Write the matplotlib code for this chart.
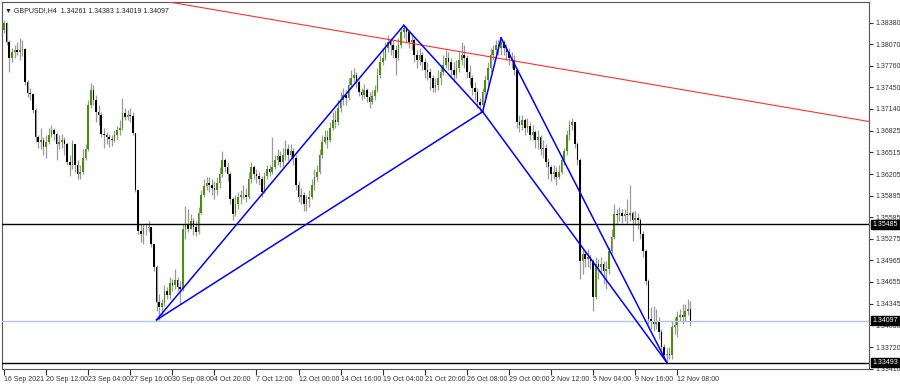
import matplotlib.pyplot as plt
import matplotlib.transforms as mtransforms
import numpy as np

# GBPUSD H4 candles (open = previous close)
first_open = 1.3827
closes = [
    1.3837, 1.3810, 1.3787, 1.3796, 1.3798, 1.3796, 1.3798, 1.3800, 1.3753, 1.3737,
    1.3736, 1.3713, 1.3673, 1.3666, 1.3670, 1.3660, 1.3667, 1.3677, 1.3683, 1.3678,
    1.3663, 1.3666, 1.3670, 1.3663, 1.3638, 1.3634, 1.3663, 1.3634, 1.3620, 1.3624,
    1.3644, 1.3656, 1.3720, 1.3741, 1.3727, 1.3710, 1.3705, 1.3678, 1.3676, 1.3673,
    1.3671, 1.3670, 1.3676, 1.3684, 1.3687, 1.3708, 1.3703, 1.3705, 1.3704, 1.3680,
    1.3598, 1.3538, 1.3535, 1.3543, 1.3543, 1.3545, 1.3520, 1.3487, 1.3437, 1.3430,
    1.3435, 1.3452, 1.3447, 1.3464, 1.3461, 1.3468, 1.3458, 1.3455, 1.3541, 1.3547,
    1.3541, 1.3553, 1.3544, 1.3537, 1.3565, 1.3591, 1.3603, 1.3608, 1.3605, 1.3601,
    1.3598, 1.3608, 1.3620, 1.3641, 1.3630, 1.3620, 1.3584, 1.3563, 1.3577, 1.3587,
    1.3590, 1.3591, 1.3588, 1.3613, 1.3631, 1.3620, 1.3617, 1.3614, 1.3595, 1.3618,
    1.3627, 1.3624, 1.3631, 1.3641, 1.3646, 1.3638, 1.3648, 1.3656, 1.3648, 1.3653,
    1.3644, 1.3605, 1.3587, 1.3591, 1.3577, 1.3584, 1.3587, 1.3605, 1.3616, 1.3624,
    1.3648, 1.3667, 1.3673, 1.3670, 1.3687, 1.3698, 1.3695, 1.3716, 1.3727, 1.3734,
    1.3730, 1.3748, 1.3758, 1.3763, 1.3753, 1.3738, 1.3734, 1.3741, 1.3731, 1.3724,
    1.3733, 1.3741, 1.3763, 1.3781, 1.3787, 1.3801, 1.3810, 1.3806, 1.3798, 1.3787,
    1.3806, 1.3824, 1.3830, 1.3824, 1.3810, 1.3813, 1.3791, 1.3784, 1.3791, 1.3781,
    1.3770, 1.3767, 1.3758, 1.3744, 1.3748, 1.3758, 1.3767, 1.3777, 1.3787, 1.3781,
    1.3770, 1.3763, 1.3773, 1.3784, 1.3791, 1.3787, 1.3767, 1.3758, 1.3744, 1.3738,
    1.3724, 1.3720, 1.3738, 1.3756, 1.3773, 1.3791, 1.3798, 1.3806, 1.3801, 1.3810,
    1.3801, 1.3796, 1.3787, 1.3784, 1.3770, 1.3695, 1.3691, 1.3698, 1.3687, 1.3690,
    1.3677, 1.3681, 1.3670, 1.3673, 1.3656, 1.3658, 1.3638, 1.3630, 1.3620, 1.3624,
    1.3616, 1.3624, 1.3641, 1.3653, 1.3677, 1.3691, 1.3695, 1.3663, 1.3641, 1.3495,
    1.3505, 1.3498, 1.3501, 1.3495, 1.3444, 1.3491, 1.3487, 1.3491, 1.3481, 1.3484,
    1.3510, 1.3530, 1.3563, 1.3561, 1.3564, 1.3560, 1.3563, 1.3561, 1.3564, 1.3555,
    1.3558, 1.3554, 1.3534, 1.3510, 1.3467, 1.3412, 1.3408, 1.3405, 1.3410, 1.3394,
    1.3372, 1.3360, 1.3362, 1.3361, 1.3401, 1.3404, 1.3415, 1.3418, 1.3415, 1.3424,
    1.34261, 1.34097,
]
highs = [
    1.3841, 1.3839, 1.3813, 1.3801, 1.3806, 1.3810, 1.3816, 1.3813, 1.3801, 1.3756,
    1.3744, 1.3737, 1.3716, 1.3677, 1.3687, 1.3673, 1.3677, 1.3687, 1.3691, 1.3687,
    1.3681, 1.3677, 1.3678, 1.3673, 1.3667, 1.3648, 1.3670, 1.3663, 1.3641, 1.3634,
    1.3656, 1.3663, 1.3727, 1.3751, 1.3748, 1.3734, 1.3720, 1.3710, 1.3687, 1.3681,
    1.3678, 1.3677, 1.3684, 1.3690, 1.3698, 1.3730, 1.3716, 1.3713, 1.3716, 1.3710,
    1.3680, 1.3598, 1.3548, 1.3548, 1.3550, 1.3553, 1.3545, 1.3520, 1.3490, 1.3448,
    1.3441, 1.3461, 1.3458, 1.3472, 1.3470, 1.3484, 1.3472, 1.3467, 1.3548, 1.3574,
    1.3570, 1.3563, 1.3558, 1.3553, 1.3573, 1.3598, 1.3613, 1.3616, 1.3616, 1.3613,
    1.3610, 1.3616, 1.3630, 1.3653, 1.3644, 1.3638, 1.3624, 1.3587, 1.3591, 1.3595,
    1.3598, 1.3605, 1.3601, 1.3624, 1.3638, 1.3634, 1.3627, 1.3624, 1.3618, 1.3624,
    1.3634, 1.3633, 1.3674, 1.3648, 1.3656, 1.3653, 1.3658, 1.3670, 1.3663, 1.3663,
    1.3658, 1.3648, 1.3610, 1.3601, 1.3595, 1.3591, 1.3598, 1.3613, 1.3627, 1.3634,
    1.3656, 1.3677, 1.3684, 1.3684, 1.3695, 1.3710, 1.3713, 1.3727, 1.3738, 1.3744,
    1.3741, 1.3758, 1.3770, 1.3773, 1.3767, 1.3756, 1.3744, 1.3750, 1.3744, 1.3738,
    1.3741, 1.3748, 1.3773, 1.3791, 1.3801, 1.3810, 1.3820, 1.3816, 1.3813, 1.3806,
    1.3816, 1.3830, 1.3834, 1.3833, 1.3827, 1.3823, 1.3816, 1.3798, 1.3801, 1.3796,
    1.3787, 1.3781, 1.3773, 1.3763, 1.3758, 1.3770, 1.3777, 1.3791, 1.3798, 1.3796,
    1.3787, 1.3781, 1.3784, 1.3796, 1.3810, 1.3806, 1.3791, 1.3777, 1.3763, 1.3753,
    1.3744, 1.3730, 1.3744, 1.3763, 1.3781, 1.3801, 1.3806, 1.3813, 1.3813, 1.3816,
    1.3813, 1.3807, 1.3801, 1.3796, 1.3791, 1.3773, 1.3705, 1.3705, 1.3701, 1.3701,
    1.3695, 1.3691, 1.3684, 1.3684, 1.3677, 1.3670, 1.3663, 1.3644, 1.3634, 1.3634,
    1.3630, 1.3634, 1.3648, 1.3658, 1.3684, 1.3698, 1.3701, 1.3695, 1.3667, 1.3644,
    1.3513, 1.3510, 1.3513, 1.3505, 1.3498, 1.3501, 1.3498, 1.3501, 1.3495, 1.3495,
    1.3515, 1.3541, 1.3577, 1.3570, 1.3573, 1.3570, 1.3570, 1.3584, 1.3605, 1.3567,
    1.3567, 1.3564, 1.3558, 1.3538, 1.3513, 1.3470, 1.3430, 1.3431, 1.3427, 1.3415,
    1.3398, 1.3377, 1.3370, 1.3372, 1.3410, 1.3415, 1.3424, 1.3427, 1.3434, 1.3434,
    1.3441, 1.34383,
]
lows = [
    1.3823, 1.3806, 1.3767, 1.3781, 1.3787, 1.3791, 1.3784, 1.3790, 1.3748, 1.3731,
    1.3727, 1.3708, 1.3667, 1.3658, 1.3656, 1.3648, 1.3644, 1.3663, 1.3673, 1.3670,
    1.3641, 1.3656, 1.3658, 1.3648, 1.3634, 1.3617, 1.3627, 1.3624, 1.3613, 1.3613,
    1.3620, 1.3641, 1.3653, 1.3716, 1.3720, 1.3695, 1.3691, 1.3673, 1.3658, 1.3663,
    1.3660, 1.3661, 1.3667, 1.3670, 1.3677, 1.3684, 1.3698, 1.3698, 1.3695, 1.3676,
    1.3594, 1.3534, 1.3523, 1.3520, 1.3533, 1.3537, 1.3515, 1.3481, 1.3424, 1.3411,
    1.3418, 1.3431, 1.3441, 1.3441, 1.3452, 1.3455, 1.3452, 1.3434, 1.3452, 1.3527,
    1.3537, 1.3541, 1.3533, 1.3531, 1.3534, 1.3563, 1.3588, 1.3598, 1.3595, 1.3591,
    1.3584, 1.3591, 1.3601, 1.3616, 1.3624, 1.3610, 1.3577, 1.3555, 1.3560, 1.3570,
    1.3577, 1.3584, 1.3581, 1.3584, 1.3608, 1.3613, 1.3608, 1.3605, 1.3588, 1.3593,
    1.3613, 1.3617, 1.3620, 1.3627, 1.3634, 1.3630, 1.3630, 1.3641, 1.3641, 1.3644,
    1.3634, 1.3598, 1.3580, 1.3577, 1.3567, 1.3567, 1.3573, 1.3584, 1.3598, 1.3610,
    1.3620, 1.3644, 1.3663, 1.3658, 1.3667, 1.3684, 1.3687, 1.3691, 1.3710, 1.3720,
    1.3720, 1.3727, 1.3744, 1.3753, 1.3744, 1.3733, 1.3727, 1.3730, 1.3724, 1.3716,
    1.3721, 1.3727, 1.3738, 1.3758, 1.3777, 1.3784, 1.3796, 1.3791, 1.3787, 1.3763,
    1.3784, 1.3801, 1.3816, 1.3810, 1.3801, 1.3798, 1.3781, 1.3773, 1.3777, 1.3770,
    1.3758, 1.3756, 1.3741, 1.3738, 1.3738, 1.3741, 1.3748, 1.3763, 1.3773, 1.3770,
    1.3758, 1.3753, 1.3758, 1.3767, 1.3777, 1.3773, 1.3758, 1.3748, 1.3734, 1.3727,
    1.3716, 1.3710, 1.3713, 1.3730, 1.3748, 1.3767, 1.3784, 1.3790, 1.3791, 1.3791,
    1.3791, 1.3784, 1.3777, 1.3773, 1.3763, 1.3687, 1.3681, 1.3684, 1.3677, 1.3681,
    1.3670, 1.3670, 1.3658, 1.3656, 1.3648, 1.3644, 1.3630, 1.3613, 1.3610, 1.3613,
    1.3605, 1.3613, 1.3620, 1.3634, 1.3648, 1.3670, 1.3684, 1.3658, 1.3634, 1.3470,
    1.3477, 1.3487, 1.3487, 1.3484, 1.3424, 1.3441, 1.3470, 1.3477, 1.3462, 1.3455,
    1.3477, 1.3505, 1.3527, 1.3548, 1.3553, 1.3550, 1.3553, 1.3548, 1.3553, 1.3524,
    1.3547, 1.3541, 1.3527, 1.3501, 1.3461, 1.3405, 1.3398, 1.3395, 1.3398, 1.3384,
    1.3367, 1.3355, 1.3351, 1.3355, 1.3355, 1.3391, 1.3387, 1.3410, 1.3405, 1.3410,
    1.3418, 1.34019,
]

time_labels = ['16 Sep 2021', '20 Sep 12:00', '23 Sep 04:00', '27 Sep 16:00', '30 Sep 08:00',
               '4 Oct 20:00', '7 Oct 12:00', '12 Oct 00:00', '14 Oct 16:00', '19 Oct 04:00',
               '21 Oct 20:00', '26 Oct 08:00', '29 Oct 00:00', '2 Nov 12:00', '5 Nov 04:00',
               '9 Nov 16:00', '12 Nov 08:00']
time_label_bars = [0, 16, 32, 48, 64, 80, 96, 112, 128, 144, 160, 176, 192, 208, 224, 240, 256]

price_ticks = [1.38380, 1.38070, 1.37760, 1.37450, 1.37140, 1.36825, 1.36515, 1.36205,
               1.35895, 1.35585, 1.35275, 1.34965, 1.34655, 1.34345, 1.34030, 1.33720, 1.33410]

# horizontal levels: (price, colour)
levels = [(1.35485, 'black'), (1.34097, '#b0c4de'), (1.33493, 'black')]

# harmonic pattern points X, A, B, C, D as (bar, price)
pattern = {'X': (58, 1.3411), 'A': (152, 1.3834), 'B': (182, 1.3710),
           'C': (189, 1.3816), 'D': (252, 1.3350)}
pattern_legs = [('X', 'A'), ('A', 'B'), ('B', 'C'), ('C', 'D'), ('X', 'B'), ('B', 'D')]

# red trend line anchors (bar, price), extended to the right
trend_line = [(62, 1.3868), (200, 1.3779)]

symbol_info = 'GBPUSD!,H4  1.34261 1.34383 1.34019 1.34097'

plt.rcParams['font.family'] = ['Liberation Sans', 'DejaVu Sans']
FS = 5.0


def main():
    fig = plt.figure(figsize=(9, 3.86), dpi=100)
    ax = fig.add_axes([2 / 900, 17 / 386, 867 / 900, 367 / 386])
    ax.set_xlim(-0.76, 328.9)
    ax.set_ylim(1.33405, 1.38675)

    n = len(closes)
    bars = np.arange(n)
    opens = np.array([first_open] + closes[:-1])
    c = np.array(closes)
    up = c >= opens

    ax.vlines(bars, lows, highs, color='#9a9a9a', linewidth=0.9, zorder=2)
    body_bottom = np.minimum(opens, c)
    body_height = np.maximum(np.abs(c - opens), 0.00004)
    ax.bar(bars[up], body_height[up], bottom=body_bottom[up], width=0.62,
           color='#4a8f0a', edgecolor='none', zorder=3)
    ax.bar(bars[~up], body_height[~up], bottom=body_bottom[~up], width=0.62,
           color='black', edgecolor='none', zorder=3)

    for price, col in levels:
        ax.axhline(price, color=col, linewidth=1.0, zorder=4)

    # trend line as a ray
    (b0, p0), (b1, p1) = trend_line
    slope = (p1 - p0) / (b1 - b0)
    xr = np.array([b0, 330])
    ax.plot(xr, p0 + slope * (xr - b0), color='#ff3030', linewidth=0.8, zorder=4)

    for a, b in pattern_legs:
        ax.plot([pattern[a][0], pattern[b][0]], [pattern[a][1], pattern[b][1]],
                color='#0000ff', linewidth=1.1, zorder=5)

    # right price axis
    ax.yaxis.tick_right()
    ax.set_yticks(price_ticks)
    ax.set_yticklabels([f'{p:.5f}' for p in price_ticks])
    ax.tick_params(axis='y', direction='out', length=3, width=0.8, pad=1.5,
                   labelsize=FS, colors='#333333')

    trans = mtransforms.blended_transform_factory(ax.transAxes, ax.transData)
    for price, col in levels:
        ax.text(1.004, price, f'{price:.5f}', transform=trans, fontsize=FS,
                color='white', va='center', ha='left', zorder=10, clip_on=False,
                bbox=dict(boxstyle='square,pad=0.15', facecolor='black', edgecolor='black'))

    # bottom time axis
    ax.set_xticks(time_label_bars)
    ax.set_xticklabels(time_labels)
    ax.tick_params(axis='x', direction='out', length=4, width=0.8, pad=1,
                   labelsize=FS, colors='#333333')
    for lbl in ax.get_xticklabels():
        lbl.set_horizontalalignment('left')

    for side in ['left', 'right', 'top', 'bottom']:
        ax.spines[side].set_color('#555555')
        ax.spines[side].set_linewidth(0.8)

    ax.text(0.004, 0.985, '\u25bc ' + symbol_info, transform=ax.transAxes,
            fontsize=FS, color='#222222', va='top', ha='left', zorder=10)

    fig.savefig('out.png', dpi=100, facecolor='white')


if __name__ == '__main__':
    main()
